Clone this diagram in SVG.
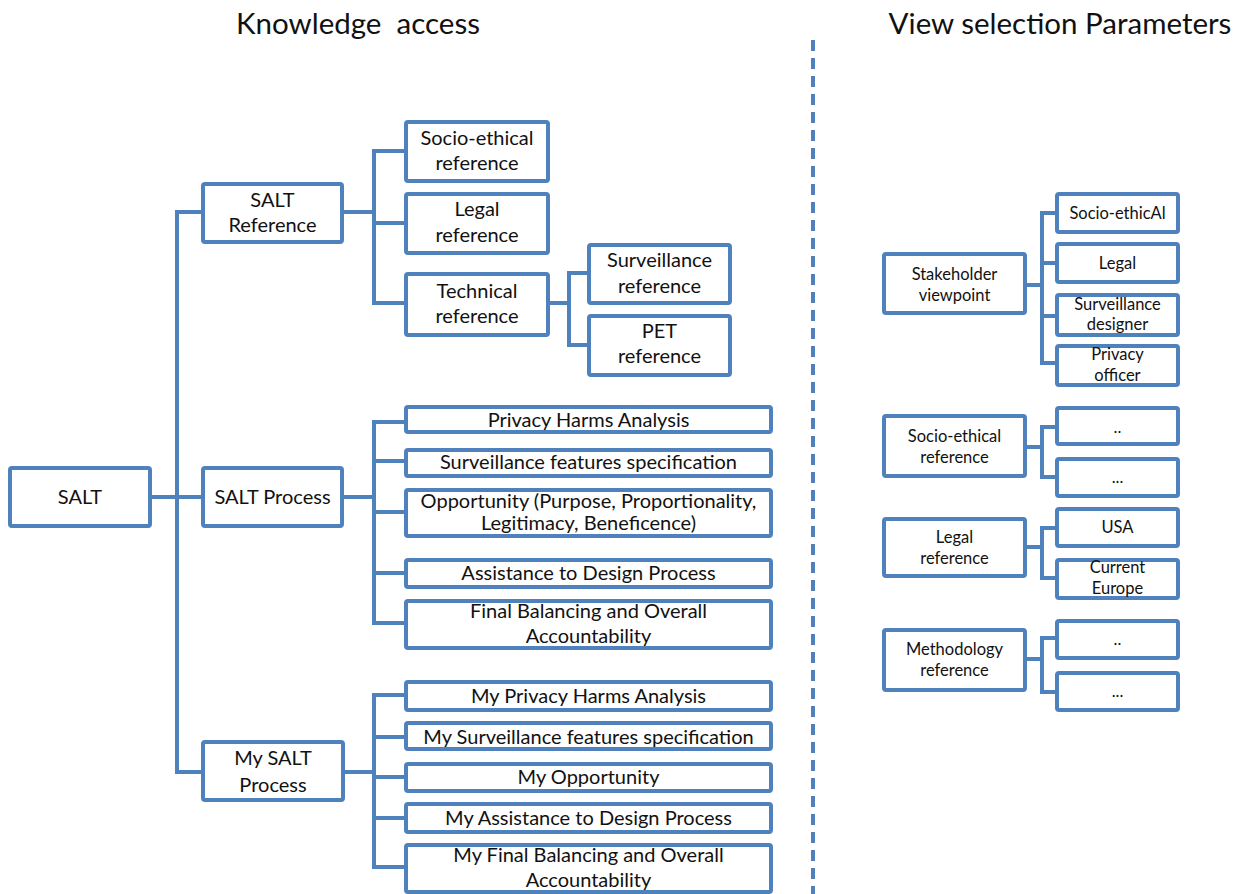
<svg xmlns="http://www.w3.org/2000/svg" width="1245" height="894" viewBox="0 0 1245 894">
  <style>
    .box { fill: #ffffff; stroke: #4f81bd; stroke-width: 4; }
    .wire { fill: none; stroke: #4f81bd; stroke-width: 4; }
    .divider { fill: none; stroke: #4f81bd; stroke-width: 4; stroke-dasharray: 11 7; }
    text { font-family: Lato, "Open Sans", "Liberation Sans", sans-serif; fill: #111111; text-anchor: middle; }
    .title { font-size: 29.5px; }
    .lg { font-size: 20px; }
    .sm { font-size: 16.5px; }
  </style>
  <rect width="1245" height="894" fill="#ffffff"/>

  <!-- headings -->
  <text class="title" x="358" y="34" xml:space="preserve">Knowledge  access</text>
  <text class="title" x="1060" y="34">View selection Parameters</text>

  <!-- connectors -->
  <g id="connectors">
    <path class="divider" d="M813,40 V894"/>
    <!-- SALT trunk -->
    <path class="wire" d="M152,497 H201"/>
    <path class="wire" d="M201,212 H177 V772 H201"/>
    <!-- SALT Reference -->
    <path class="wire" d="M342,212 H374"/>
    <path class="wire" d="M406,151 H374 V303 H406 M374,223 H406"/>
    <!-- Technical reference -->
    <path class="wire" d="M548,303 H569"/>
    <path class="wire" d="M589,273 H569 V345 H589"/>
    <!-- SALT Process -->
    <path class="wire" d="M342,497 H374"/>
    <path class="wire" d="M406,422 H374 V623 H406 M374,461 H406 M374,512 H406 M374,573 H406"/>
    <!-- My SALT Process -->
    <path class="wire" d="M343,772 H374"/>
    <path class="wire" d="M406,695 H374 V867 H406 M374,737 H406 M374,777 H406 M374,818 H406"/>
    <!-- Stakeholder viewpoint -->
    <path class="wire" d="M1025,285 H1042"/>
    <path class="wire" d="M1057,213 H1042 V363 H1057 M1042,263 H1057 M1042,316 H1057"/>
    <!-- Socio-ethical reference -->
    <path class="wire" d="M1025,447 H1042"/>
    <path class="wire" d="M1057,427 H1042 V477 H1057"/>
    <!-- Legal reference -->
    <path class="wire" d="M1025,547 H1042"/>
    <path class="wire" d="M1057,528 H1042 V578 H1057"/>
    <!-- Methodology reference -->
    <path class="wire" d="M1025,659 H1042"/>
    <path class="wire" d="M1057,638 H1042 V692 H1057"/>
  </g>

  <!-- left tree -->
  <g id="salt">
    <rect class="box" x="10" y="468" width="140" height="58" rx="2"/>
    <text class="lg" x="80" y="504">SALT</text>
  </g>
  <g id="salt-reference">
    <rect class="box" x="203" y="184" width="139" height="58" rx="2"/>
    <text class="lg" x="272.5" y="207">SALT</text>
    <text class="lg" x="272.5" y="232">Reference</text>
  </g>
  <g id="salt-process">
    <rect class="box" x="203" y="468" width="139" height="58" rx="2"/>
    <text class="lg" x="272.5" y="504">SALT Process</text>
  </g>
  <g id="my-salt-process">
    <rect class="box" x="203" y="742" width="140" height="58" rx="2"/>
    <text class="lg" x="273" y="765">My SALT</text>
    <text class="lg" x="273" y="792">Process</text>
  </g>

  <g id="socio-ethical-reference">
    <rect class="box" x="406" y="122" width="142" height="59" rx="2"/>
    <text class="lg" x="477" y="145">Socio-ethical</text>
    <text class="lg" x="477" y="170">reference</text>
  </g>
  <g id="legal-reference">
    <rect class="box" x="406" y="194" width="142" height="59" rx="2"/>
    <text class="lg" x="477" y="216">Legal</text>
    <text class="lg" x="477" y="242">reference</text>
  </g>
  <g id="technical-reference">
    <rect class="box" x="406" y="274" width="142" height="61" rx="2"/>
    <text class="lg" x="477" y="298">Technical</text>
    <text class="lg" x="477" y="323">reference</text>
  </g>
  <g id="surveillance-reference">
    <rect class="box" x="589" y="245" width="141" height="58" rx="2"/>
    <text class="lg" x="659.5" y="267">Surveillance</text>
    <text class="lg" x="659.5" y="293">reference</text>
  </g>
  <g id="pet-reference">
    <rect class="box" x="589" y="316" width="141" height="59" rx="2"/>
    <text class="lg" x="659.5" y="338">PET</text>
    <text class="lg" x="659.5" y="363">reference</text>
  </g>

  <g id="privacy-harms-analysis">
    <rect class="box" x="406" y="407" width="365" height="25" rx="2"/>
    <text class="lg" x="588.5" y="427">Privacy Harms Analysis</text>
  </g>
  <g id="surveillance-features">
    <rect class="box" x="406" y="450" width="365" height="26" rx="2"/>
    <text class="lg" x="588.5" y="469">Surveillance features specification</text>
  </g>
  <g id="opportunity">
    <rect class="box" x="406" y="490" width="365" height="46" rx="2"/>
    <text class="lg" x="588.5" y="508">Opportunity (Purpose, Proportionality,</text>
    <text class="lg" x="588.5" y="530">Legitimacy, Beneficence)</text>
  </g>
  <g id="assistance-design">
    <rect class="box" x="406" y="560" width="365" height="27" rx="2"/>
    <text class="lg" x="588.5" y="580">Assistance to Design Process</text>
  </g>
  <g id="final-balancing">
    <rect class="box" x="406" y="601" width="365" height="47" rx="2"/>
    <text class="lg" x="588.5" y="618">Final Balancing and Overall</text>
    <text class="lg" x="588.5" y="643">Accountability</text>
  </g>

  <g id="my-privacy-harms-analysis">
    <rect class="box" x="406" y="682" width="365" height="28" rx="2"/>
    <text class="lg" x="588.5" y="703">My Privacy Harms Analysis</text>
  </g>
  <g id="my-surveillance-features">
    <rect class="box" x="406" y="723" width="365" height="26" rx="2"/>
    <text class="lg" x="588.5" y="744">My Surveillance features specification</text>
  </g>
  <g id="my-opportunity">
    <rect class="box" x="406" y="764" width="365" height="27" rx="2"/>
    <text class="lg" x="588.5" y="784">My Opportunity</text>
  </g>
  <g id="my-assistance-design">
    <rect class="box" x="406" y="804" width="365" height="28" rx="2"/>
    <text class="lg" x="588.5" y="825">My Assistance to Design Process</text>
  </g>
  <g id="my-final-balancing">
    <rect class="box" x="406" y="845" width="365" height="47" rx="2"/>
    <text class="lg" x="588.5" y="862">My Final Balancing and Overall</text>
    <text class="lg" x="588.5" y="887">Accountability</text>
  </g>

  <!-- right tree -->
  <g id="stakeholder-viewpoint">
    <rect class="box" x="884" y="254" width="141" height="59" rx="2"/>
    <text class="sm" x="954.5" y="280">Stakeholder</text>
    <text class="sm" x="954.5" y="301">viewpoint</text>
  </g>
  <g id="sv-socio-ethical">
    <rect class="box" x="1057" y="194" width="121" height="38" rx="2"/>
    <text class="sm" x="1117.5" y="219">Socio-ethicAl</text>
  </g>
  <g id="sv-legal">
    <rect class="box" x="1057" y="244" width="121" height="38" rx="2"/>
    <text class="sm" x="1117.5" y="269">Legal</text>
  </g>
  <g id="sv-surveillance-designer">
    <rect class="box" x="1057" y="295" width="121" height="40" rx="2"/>
    <text class="sm" x="1117.5" y="310">Surveillance</text>
    <text class="sm" x="1117.5" y="330">designer</text>
  </g>
  <g id="sv-privacy-officer">
    <rect class="box" x="1057" y="346" width="121" height="39" rx="2"/>
    <text class="sm" x="1117.5" y="360">Privacy</text>
    <text class="sm" x="1117.5" y="381">officer</text>
  </g>

  <g id="vs-socio-ethical-reference">
    <rect class="box" x="884" y="416" width="141" height="60" rx="2"/>
    <text class="sm" x="954.5" y="442">Socio-ethical</text>
    <text class="sm" x="954.5" y="463">reference</text>
  </g>
  <g id="vs-socio-ethical-1">
    <rect class="box" x="1057" y="408" width="121" height="36" rx="2"/>
    <text class="sm" x="1117.5" y="433">..</text>
  </g>
  <g id="vs-socio-ethical-2">
    <rect class="box" x="1057" y="459" width="121" height="37" rx="2"/>
    <text class="sm" x="1117.5" y="483">...</text>
  </g>

  <g id="vs-legal-reference">
    <rect class="box" x="884" y="519" width="141" height="57" rx="2"/>
    <text class="sm" x="954.5" y="543">Legal</text>
    <text class="sm" x="954.5" y="564">reference</text>
  </g>
  <g id="vs-usa">
    <rect class="box" x="1057" y="509" width="121" height="37" rx="2"/>
    <text class="sm" x="1117.5" y="533">USA</text>
  </g>
  <g id="vs-current-europe">
    <rect class="box" x="1057" y="560" width="121" height="38" rx="2"/>
    <text class="sm" x="1117.5" y="573">Current</text>
    <text class="sm" x="1117.5" y="594">Europe</text>
  </g>

  <g id="vs-methodology-reference">
    <rect class="box" x="884" y="630" width="141" height="60" rx="2"/>
    <text class="sm" x="954.5" y="655">Methodology</text>
    <text class="sm" x="954.5" y="676">reference</text>
  </g>
  <g id="vs-methodology-1">
    <rect class="box" x="1057" y="621" width="121" height="37" rx="2"/>
    <text class="sm" x="1117.5" y="645">..</text>
  </g>
  <g id="vs-methodology-2">
    <rect class="box" x="1057" y="673" width="121" height="37" rx="2"/>
    <text class="sm" x="1117.5" y="697">...</text>
  </g>
</svg>
